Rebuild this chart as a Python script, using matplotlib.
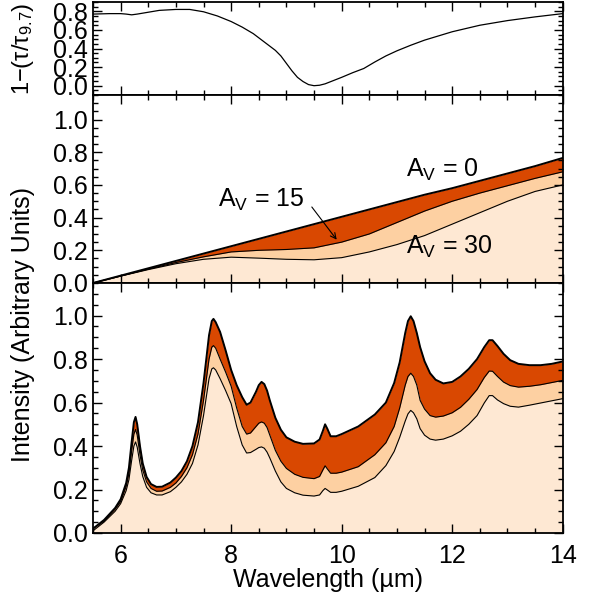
import numpy as np
import matplotlib
matplotlib.use('Agg')
import matplotlib.pyplot as plt
from matplotlib.ticker import MultipleLocator, FormatStrFormatter

plt.rcParams['font.family'] = ['Liberation Sans', 'DejaVu Sans']
plt.rcParams['mathtext.default'] = 'regular'
plt.rcParams['font.size'] = 18

# top panel: normalised silicate profile 1 - tau/tau_9.7
tau_wave = [5.5, 5.8, 6.0, 6.1, 6.2, 6.3, 6.5, 6.7, 7.0, 7.25, 7.5, 7.75, 8.0, 8.2,
            8.4, 8.6, 8.8, 8.9, 9.0, 9.1, 9.2, 9.3, 9.4, 9.5, 9.6, 9.7, 9.85, 10.0,
            10.2, 10.4, 10.6, 10.8, 11.0, 11.25, 11.5, 12.0, 12.5, 13.0, 13.5, 14.0]
tau_val = [0.77, 0.775, 0.775, 0.77, 0.762, 0.77, 0.79, 0.81, 0.82, 0.82, 0.795, 0.75,
           0.69, 0.63, 0.56, 0.47, 0.38, 0.32, 0.24, 0.16, 0.09, 0.045, 0.012, 0.0,
           0.005, 0.02, 0.055, 0.09, 0.14, 0.185, 0.255, 0.32, 0.375, 0.435, 0.49,
           0.58, 0.65, 0.70, 0.74, 0.775]

# middle panel: continuum for three extinction levels
cont_wave = [5.5, 6.0, 6.5, 7.0, 7.5, 8.0, 8.5, 9.0, 9.5, 10.0, 10.5, 11.0, 11.5,
             12.0, 12.5, 13.0, 13.5, 14.0]
cont_av0 = [0.0, 0.045, 0.09, 0.135, 0.18, 0.225, 0.27, 0.315, 0.36, 0.405, 0.45,
            0.495, 0.54, 0.58, 0.625, 0.67, 0.715, 0.765]
cont_av15 = [0.0, 0.043, 0.085, 0.125, 0.16, 0.19, 0.2, 0.205, 0.215, 0.25, 0.3,
             0.37, 0.44, 0.5, 0.55, 0.595, 0.64, 0.68]
cont_av30 = [0.0, 0.042, 0.082, 0.118, 0.145, 0.158, 0.152, 0.145, 0.142, 0.155,
             0.19, 0.235, 0.29, 0.36, 0.43, 0.5, 0.56, 0.60]

# bottom panel: PAH spectrum for three extinction levels
pah_wave = [5.5, 5.7, 5.9, 6.0, 6.1, 6.15, 6.2, 6.24, 6.27, 6.3,
            6.35, 6.4, 6.47, 6.55, 6.65, 6.75, 6.9, 7.0, 7.1, 7.2,
            7.3, 7.4, 7.5, 7.55, 7.6, 7.65, 7.68, 7.72, 7.8, 7.9,
            8.0, 8.1, 8.2, 8.28, 8.35, 8.45, 8.5, 8.55, 8.6, 8.65,
            8.7, 8.8, 8.9, 9.0, 9.15, 9.3, 9.5, 9.6, 9.66, 9.7,
            9.74, 9.8, 9.9, 10.0, 10.3, 10.6, 10.8, 10.95, 11.05, 11.15,
            11.2, 11.25, 11.3, 11.36, 11.42, 11.5, 11.6, 11.7, 11.84, 12.0,
            12.15, 12.3, 12.45, 12.58, 12.67, 12.73, 12.82, 12.93, 13.05, 13.2,
            13.4, 13.6, 13.8, 14.0]
pah_av0 = [0.02, 0.06, 0.115, 0.155, 0.23, 0.30, 0.42, 0.51, 0.534, 0.50,
           0.40, 0.32, 0.258, 0.225, 0.212, 0.213, 0.232, 0.255, 0.285, 0.33,
           0.40, 0.51, 0.69, 0.80, 0.91, 0.975, 0.985, 0.97, 0.925, 0.84,
           0.75, 0.68, 0.625, 0.59, 0.60, 0.65, 0.68, 0.695, 0.685, 0.655,
           0.61, 0.53, 0.475, 0.44, 0.42, 0.41, 0.412, 0.43, 0.47, 0.50,
           0.48, 0.445, 0.445, 0.455, 0.49, 0.545, 0.60, 0.69, 0.785, 0.92,
           0.975, 0.997, 0.975, 0.92, 0.855, 0.79, 0.735, 0.705, 0.688, 0.695,
           0.72, 0.755, 0.80, 0.855, 0.887, 0.887, 0.86, 0.824, 0.795, 0.778,
           0.772, 0.772, 0.778, 0.789]
pah_av15 = [0.02, 0.055, 0.11, 0.145, 0.215, 0.275, 0.38, 0.455, 0.476, 0.45,
            0.36, 0.29, 0.235, 0.205, 0.192, 0.193, 0.21, 0.23, 0.26, 0.30,
            0.36, 0.455, 0.61, 0.705, 0.80, 0.855, 0.862, 0.85, 0.80, 0.74,
            0.675, 0.575, 0.49, 0.455, 0.46, 0.49, 0.505, 0.511, 0.505, 0.485,
            0.45, 0.38, 0.33, 0.297, 0.27, 0.256, 0.25, 0.26, 0.29, 0.309,
            0.295, 0.275, 0.275, 0.28, 0.305, 0.36, 0.415, 0.49, 0.575, 0.68,
            0.72, 0.735, 0.72, 0.68, 0.61, 0.57, 0.54, 0.533, 0.538, 0.553,
            0.578, 0.615, 0.66, 0.715, 0.745, 0.744, 0.72, 0.694, 0.678, 0.671,
            0.675, 0.682, 0.692, 0.702]
pah_av30 = [0.01, 0.05, 0.10, 0.135, 0.195, 0.245, 0.335, 0.40, 0.419, 0.395,
            0.32, 0.26, 0.21, 0.185, 0.175, 0.175, 0.19, 0.21, 0.235, 0.27,
            0.32, 0.405, 0.54, 0.625, 0.71, 0.755, 0.76, 0.75, 0.71, 0.655,
            0.595, 0.49, 0.405, 0.368, 0.37, 0.385, 0.393, 0.396, 0.39, 0.372,
            0.345, 0.285, 0.235, 0.205, 0.185, 0.174, 0.17, 0.175, 0.195, 0.205,
            0.198, 0.187, 0.187, 0.192, 0.215, 0.255, 0.31, 0.375, 0.44, 0.515,
            0.548, 0.564, 0.553, 0.525, 0.48, 0.45, 0.432, 0.427, 0.432, 0.447,
            0.468, 0.50, 0.54, 0.598, 0.632, 0.632, 0.612, 0.595, 0.583, 0.579,
            0.588, 0.598, 0.608, 0.618]

DARK = '#D94801'
MID = '#FDD0A2'
LIGHT = '#FEE8D3'


def style(ax, ylim):
    ax.set_xlim(5.5, 14)
    ax.set_ylim(*ylim)
    ax.xaxis.set_major_locator(MultipleLocator(2))
    ax.xaxis.set_minor_locator(MultipleLocator(0.5))
    ax.yaxis.set_major_locator(MultipleLocator(0.2))
    ax.yaxis.set_minor_locator(MultipleLocator(0.05))
    ax.yaxis.set_major_formatter(FormatStrFormatter('%.1f'))
    ax.tick_params(which='both', direction='in', top=True, right=True, width=1.0)
    ax.tick_params(which='major', length=6.5, pad=4)
    ax.tick_params(which='minor', length=3.5)
    ax.tick_params(axis='x', pad=8)
    for s in ax.spines.values():
        s.set_linewidth(1.3)


def layers(ax, x, av0, av15, av30):
    ax.fill_between(x, 0, av30, color=LIGHT, lw=0)
    ax.fill_between(x, av30, av15, color=MID, lw=0)
    ax.fill_between(x, av15, av0, color=DARK, lw=0)
    ax.plot(x, av30, color='black', lw=0.8)
    ax.plot(x, av15, color='black', lw=0.8)
    ax.plot(x, av0, color='black', lw=1.4)


W, H = 595, 601
fig = plt.figure(figsize=(W / 100, H / 100), dpi=100)
left, right = 93 / W, 562.7 / W
ax_top = fig.add_axes([left, 1 - 95 / H, right - left, 93 / H])
ax_mid = fig.add_axes([left, 1 - 283 / H, right - left, 188 / H])
ax_bot = fig.add_axes([left, 1 - 533 / H, right - left, 250 / H])

ax_top.plot(tau_wave, tau_val, color='black', lw=0.9)
style(ax_top, (-0.1, 0.9))
ax_top.tick_params(labelbottom=False)

layers(ax_mid, cont_wave, cont_av0, cont_av15, cont_av30)
style(ax_mid, (0, 1.15))
ax_mid.tick_params(labelbottom=False)
ax_mid.text(11.17, 0.69, 'A$_V$ = 0', ha='left', va='center')
ax_mid.text(11.17, 0.22, 'A$_V$ = 30', ha='left', va='center')
ax_mid.text(7.76, 0.506, 'A$_V$ = 15', ha='left', va='center')
ax_mid.annotate('', xy=(9.91, 0.265), xytext=(9.46, 0.465),
                arrowprops=dict(arrowstyle='->', lw=0.8, color='black',
                                mutation_scale=10, shrinkA=0, shrinkB=0))

layers(ax_bot, pah_wave, pah_av0, pah_av15, pah_av30)
style(ax_bot, (0, 1.15))
ax_bot.set_xlabel('Wavelength (µm)', labelpad=0)

for ax in (ax_mid, ax_bot):
    ax.yaxis.get_major_ticks()[0].label1.set_verticalalignment('bottom')

fig.text(23 / W, 1 - 49 / H, '1−(τ/τ$_{9.7}$)', rotation=90, ha='center', va='center',
         fontsize=17)
fig.text(23 / W, 1 - 325 / H, 'Intensity (Arbitrary Units)', rotation=90,
         ha='center', va='center')

fig.savefig('out.png', dpi=100)
